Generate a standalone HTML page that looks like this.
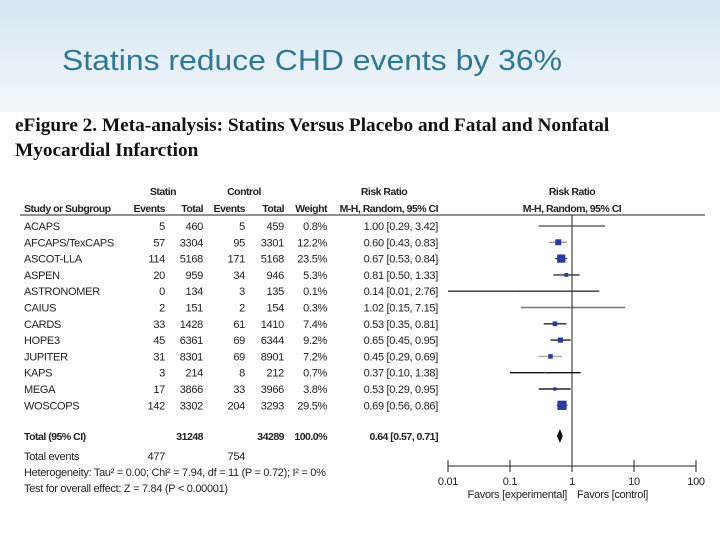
<!DOCTYPE html>
<html><head><meta charset="utf-8"><style>
body{margin:0;width:720px;height:540px;overflow:hidden;background:#fff;font-family:"Liberation Sans",sans-serif;position:relative}
#banner{position:absolute;left:0;top:0;width:720px;height:112px;background:linear-gradient(180deg,#d4e6f2 0%,#e6f0f7 55%,#f3f7fa 100%)}
#title{position:absolute;left:62px;top:45px;font-size:29px;color:#2f7897;white-space:nowrap;transform:scaleX(1.1);transform-origin:left top}
.fig{position:absolute;left:15px;font-family:"Liberation Serif",serif;font-weight:bold;font-size:19px;color:#111;white-space:nowrap;transform:scaleX(1.015);transform-origin:left top}
svg{position:absolute;left:0;top:0}
</style></head><body>
<div id="banner"></div>
<div id="title">Statins reduce CHD events by 36%</div>
<div class="fig" style="top:115px">eFigure 2. Meta-analysis: Statins Versus Placebo and Fatal and Nonfatal</div>
<div class="fig" style="top:140px">Myocardial Infarction</div>
<svg id="chart" width="720" height="540"></svg>
<script>
const studies=["ACAPS","AFCAPS/TexCAPS","ASCOT-LLA","ASPEN","ASTRONOMER","CAIUS","CARDS","HOPE3","JUPITER","KAPS","MEGA","WOSCOPS"];
const statinEvents=[5,57,114,20,0,2,33,45,31,3,17,142];
const statinTotal=[460,3304,5168,959,134,151,1428,6361,8301,214,3866,3302];
const controlEvents=[5,95,171,34,3,2,61,69,69,8,33,204];
const controlTotal=[459,3301,5168,946,135,154,1410,6344,8901,212,3966,3293];
const weights=[0.8,12.2,23.5,5.3,0.1,0.3,7.4,9.2,7.2,0.7,3.8,29.5];
const rr=[1.00,0.60,0.67,0.81,0.14,1.02,0.53,0.65,0.45,0.37,0.53,0.69];
const lo=[0.29,0.43,0.53,0.50,0.01,0.15,0.35,0.45,0.29,0.10,0.29,0.56];
const hi=[3.42,0.83,0.84,1.33,2.76,7.15,0.81,0.95,0.69,1.38,0.95,0.86];
const lineShade=["#666","#999","#555","#333","#333","#777","#222","#222","#aaa","#111","#222","#999"];
const total={rr:0.64,lo:0.57,hi:0.71,statin:31248,control:34289,evS:477,evC:754};
const ticks=[0.01,0.1,1,10,100];
const tickLabels=["0.01","0.1","1","10","100"];

const svg=document.getElementById('chart');const NS="http://www.w3.org/2000/svg";
function el(t,a,txt){const e=document.createElementNS(NS,t);for(const k in a)e.setAttribute(k,a[k]);if(txt!==undefined)e.textContent=txt;svg.appendChild(e);return e;}
function X(v){return 572+62*Math.log10(v);}
function rowY(i){return 226+i*16.3;}
const fmt=v=>v.toFixed(2);
function txt(x,y,s,anchor,bold,name){const e=el('text',{x:x,y:y,'font-size':bold?10.5:11,'letter-spacing':bold?-0.5:-0.3,'text-anchor':anchor||'start','font-weight':bold?'bold':'normal',fill:'#222'},s);return e;}
txt(163,195,"Statin","middle",true,"header-statin");
txt(244,195,"Control","middle",true,"header-control");
txt(384,195,"Risk Ratio","middle",true,"header-risk-ratio");
txt(572,195,"Risk Ratio","middle",true,"header-risk-ratio-plot");
[["Study or Subgroup",24,"start"],["Events",165,"end"],["Total",203,"end"],["Events",245,"end"],["Total",284,"end"],["Weight",327,"end"],["M-H, Random, 95% CI",438,"end"],["M-H, Random, 95% CI",572,"middle"]].forEach(h=>txt(h[1],212,h[0],h[2],true,"column-header"));
const hl=el('line',{x1:20,y1:215,x2:705,y2:215,stroke:'#222','stroke-width':1});

const rl=el('line',{x1:X(1),y1:215,x2:X(1),y2:466,stroke:'#222','stroke-width':1});

studies.forEach((s,i)=>{const y=rowY(i)+4;
 txt(24,y,s,"start",false,"study-name");
 txt(165,y,String(statinEvents[i]),"end",false,"statin-events");
 txt(203,y,String(statinTotal[i]),"end",false,"statin-total");
 txt(245,y,String(controlEvents[i]),"end",false,"control-events");
 txt(284,y,String(controlTotal[i]),"end",false,"control-total");
 txt(327,y,weights[i].toFixed(1)+"%","end",false,"weight");
 txt(438,y,fmt(rr[i])+" ["+fmt(lo[i])+", "+fmt(hi[i])+"]","end",false,"risk-ratio-ci");
 const yc=rowY(i);const x1=Math.max(X(lo[i]),X(0.01)),x2=X(hi[i]);
 const l=el('line',{x1:x1,y1:yc,x2:x2,y2:yc,stroke:lineShade[i],'stroke-width':1.4});
 
 if(X(lo[i])<X(0.01)){const a=el('polygon',{points:`${x1},${yc} ${x1+5},${yc-3} ${x1+5},${yc+3}`,fill:'#222'});}
 const sz=Math.max(1.5,Math.sqrt(weights[i])*1.7);
 const r=el('rect',{x:X(rr[i])-sz/2,y:yc-sz/2,width:sz,height:sz,fill:'#2a3a9e'});
 
});
const ty=436;
txt(24,ty+4,"Total (95% CI)","start",true,"total-label");
txt(203,ty+4,String(total.statin),"end",true,"total-statin");
txt(284,ty+4,String(total.control),"end",true,"total-control");
txt(327,ty+4,"100.0%","end",true,"total-weight");
txt(438,ty+4,fmt(total.rr)+" ["+fmt(total.lo)+", "+fmt(total.hi)+"]","end",true,"total-ci");
txt(24,460,"Total events","start",false,"total-events-label");
txt(165,460,String(total.evS),"end",false,"total-events-statin");
txt(245,460,String(total.evC),"end",false,"total-events-control");
txt(24,476,"Heterogeneity: Tau² = 0.00; Chi² = 7.94, df = 11 (P = 0.72); I² = 0%","start",false,"heterogeneity");
txt(24,492,"Test for overall effect: Z = 7.84 (P < 0.00001)","start",false,"overall-effect");
const d=el('polygon',{points:`${X(total.lo)},${ty} ${X(total.rr)},${ty-7} ${X(total.hi)},${ty} ${X(total.rr)},${ty+7}`,fill:'#111'});

const ax=el('line',{x1:X(0.01),y1:466,x2:X(100),y2:466,stroke:'#222','stroke-width':1});

ticks.forEach((t,i)=>{const tk=el('line',{x1:X(t),y1:460,x2:X(t),y2:472,stroke:'#222'});
 txt(X(t),485,tickLabels[i],"middle",false,"x-tick-label");});
txt(567,498,"Favors [experimental]","end",false,"favors-experimental");
txt(577,498,"Favors [control]","start",false,"favors-control");
</script>
</body></html>
